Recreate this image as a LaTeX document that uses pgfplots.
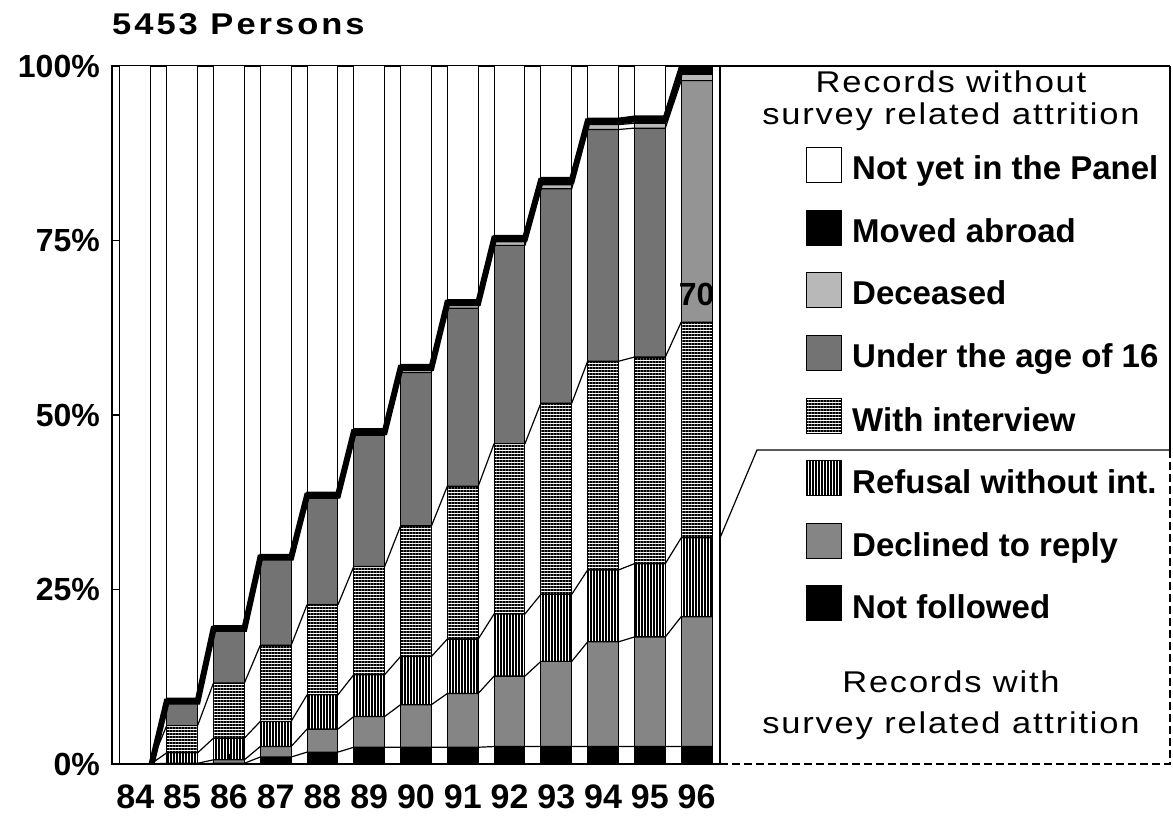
\documentclass[border=0pt]{standalone}
\usepackage{fontspec}
\setmainfont{Liberation Sans}
\newfontfamily\hdrfont[FakeStretch=1.15, LetterSpace=6]{Liberation Sans}
\newfontfamily\titfont[FakeStretch=1.15, LetterSpace=10]{Liberation Sans}
\usepackage{pgfplots}
\pgfplotsset{compat=1.18}
\usepackage{pgfplotstable}
\usetikzlibrary{patterns.meta}
\newcommand{\fs}[1]{\fontsize{#1bp}{#1bp}\selectfont}

\pgfplotstableread{
x  NF  DE   RF   WI   U    UB   DC  MA  NY
84 0   0    0    0    0    0    0   0   100
85 0   0.1  1.5  3.9  3.6  0    0.1 0.2 90.6
86 0.1 0.5  3.1  7.9  7.7  0    0.2 0.3 80.2
87 1.0 1.5  3.6  10.9 12.4 0    0.2 0.4 70.0
88 1.7 3.3  4.9  12.9 15.3 0    0.3 0.5 61.1
89 2.4 4.4  6.0  15.5 18.8 0    0.3 0.6 52.0
90 2.4 6.1  6.9  18.7 22.0 0    0.4 0.7 42.8
91 2.4 7.7  7.8  21.9 25.5 0    0.4 0.8 33.5
92 2.5 10.1 8.9  24.4 28.4 0    0.5 0.9 24.3
93 2.5 12.2 9.6  27.4 30.7 0    0.6 1.0 16.0
94 2.5 15.0 10.3 29.9 33.2 0    0.7 0.9 7.5
95 2.5 15.7 10.5 29.6 32.8 0    0.7 1.0 7.2
96 2.5 18.6 11.3 30.9 0    34.6 0.9 1.2 0.0
}\layers

% cumulative boundaries at the left and right edge of every bar
\pgfplotstableread{
x     c1  c2   c3   c4   c5   c6   c7
83.67 0   0    0    0    0    0    0
84.33 0   0    0    0    0    0    0
84.67 0   0.1  1.6  5.5  9.1  9.2  9.4
85.33 0   0.1  1.6  5.5  9.1  9.2  9.4
85.67 0.1 0.6  3.7  11.6 19.3 19.5 19.8
86.33 0.1 0.6  3.7  11.6 19.3 19.5 19.8
86.67 1.0 2.5  6.1  17.0 29.4 29.6 30.0
87.33 1.0 2.5  6.1  17.0 29.4 29.6 30.0
87.67 1.7 5.0  9.9  22.8 38.1 38.4 38.9
88.33 1.7 5.0  9.9  22.8 38.1 38.4 38.9
88.67 2.4 6.8  12.8 28.3 47.1 47.4 48.0
89.33 2.4 6.8  12.8 28.3 47.1 47.4 48.0
89.67 2.4 8.5  15.4 34.1 56.1 56.5 57.2
90.33 2.4 8.5  15.4 34.1 56.1 56.5 57.2
90.67 2.4 10.1 17.9 39.8 65.3 65.7 66.5
91.33 2.4 10.1 17.9 39.8 65.3 65.7 66.5
91.67 2.5 12.6 21.5 45.9 74.3 74.8 75.7
92.33 2.5 12.6 21.5 45.9 74.3 74.8 75.7
92.67 2.5 14.7 24.3 51.7 82.4 83.0 84.0
93.33 2.5 14.7 24.3 51.7 82.4 83.0 84.0
93.67 2.5 17.5 27.8 57.7 90.9 91.6 92.5
94.33 2.5 17.5 27.8 57.7 90.9 91.6 92.5
94.67 2.5 18.2 28.7 58.3 91.1 91.8 92.8
95.33 2.5 18.2 28.7 58.3 91.1 91.8 92.8
95.67 2.5 21.1 32.4 63.3 97.9 98.8 100
96.33 2.5 21.1 32.4 63.3 97.9 98.8 100
}\edges

\tikzset{
  sNF/.style={fill=black},
  sDE/.style={fill=black!48},
  sRF/.style={pattern={Lines[angle=90,distance=3bp,line width=1.1bp]}},
  sWI/.style={pattern={Lines[angle=0,distance=3bp,line width=1.2bp]}},
  sU/.style={fill=black!55},
  sUB/.style={fill=black!42},
  sDC/.style={fill=black!28},
  sMA/.style={fill=black},
  sNY/.style={fill=white},
}

\begin{document}
\begin{tikzpicture}
\useasboundingbox (0bp,0bp) rectangle (1173bp,818bp);

\begin{axis}[
  at={(112bp,54bp)}, anchor=south west, scale only axis,
  width=608bp, height=698bp,
  xmin=83.5, xmax=96.5, ymin=0, ymax=100,
  ybar stacked, bar width=0.66,
  xtick={84,85,86,87,88,89,90,91,92,93,94,95,96},
  xticklabels={84,85,86,87,88,89,90,91,92,93,94,95,96},
  ytick={0,25,50,75,100},
  yticklabels={0\%,25\%,50\%,75\%,100\%},
  xtick pos=lower, ytick pos=lower,
  tick align=inside, major tick length=10bp,
  tick style={line width=1.2bp, black},
  axis line style={line width=1.5bp},
  xticklabel style={font=\bfseries\fs{34}, inner sep=0pt, yshift=-21bp},
  yticklabel style={font=\bfseries\fs{32}, inner sep=0pt, xshift=-12bp},
  every axis plot/.append style={draw=black, line width=1bp},
]
\addplot[sNF] table[x=x,y=NF]{\layers};
\addplot[sDE] table[x=x,y=DE]{\layers};
\addplot[sRF] table[x=x,y=RF]{\layers};
\addplot[sWI] table[x=x,y=WI]{\layers};
\addplot[sU]  table[x=x,y=U]{\layers};
\addplot[sUB] table[x=x,y=UB]{\layers};
\addplot[sDC] table[x=x,y=DC]{\layers};
\addplot[sMA] table[x=x,y=MA]{\layers};
\addplot[sNY] table[x=x,y=NY]{\layers};
\end{axis}

\begin{axis}[
  at={(112bp,54bp)}, anchor=south west, scale only axis,
  width=608bp, height=698bp,
  xmin=83.5, xmax=96.5, ymin=0, ymax=100,
  axis lines=none, xtick=\empty, ytick=\empty, no markers,
]
\addplot[black, line width=6bp] table[x=x,y expr=\thisrow{c7}-0.45]{\edges};
\addplot[black, line width=1.2bp] table[x=x,y=c1]{\edges};
\addplot[black, line width=1.2bp] table[x=x,y=c2]{\edges};
\addplot[black, line width=1.2bp] table[x=x,y=c3]{\edges};
\addplot[black, line width=1.2bp] table[x=x,y=c4]{\edges};
\addplot[black, line width=1.2bp] table[x=x,y=c5]{\edges};
\addplot[black, line width=1.2bp] table[x=x,y=c6]{\edges};
\addplot[black, line width=1.5bp] table[x=x,y=c7]{\edges};
\node[font=\bfseries\fs{32}] at (axis cs:96,67.2) {70};
\end{axis}

\begin{scope}[x=1bp,y=1bp]
% title
\node[anchor=base west, font=\titfont\bfseries\fs{30}, inner sep=0pt] at (112,783) {5453 Persons};

% legend frame
\draw[line width=1.5bp] (720,752) -- (1170,752);
\draw[line width=1.2bp] (720,752) -- (720,54);
\draw[line width=1.2bp] (1170,752) -- (1170,368);
\draw[line width=1.2bp, dash pattern=on 8bp off 4bp] (1170,368) -- (1170,54) -- (720,54);
\draw[line width=1.2bp] (720,280) -- (757,368) -- (1170,368);

% legend headers
\node[anchor=base, font=\hdrfont\fs{30}, inner sep=0pt] at (951,725) {Records without};
\node[anchor=base, font=\hdrfont\fs{30}, inner sep=0pt] at (951,693) {survey related attrition};
\node[anchor=base, font=\hdrfont\fs{30}, inner sep=0pt] at (951,126) {Records with};
\node[anchor=base, font=\hdrfont\fs{30}, inner sep=0pt] at (951,85) {survey related attrition};

% legend entries
\foreach \st/\cy/\lab in {sNY/653/Not yet in the Panel, sMA/590/Moved abroad, sDC/528/Deceased, sU/465/Under the age of 16, sWI/402/With interview, sRF/340/Refusal without int., sDE/277/Declined to reply, sNF/215/Not followed}{
  \draw[\st, draw=black, line width=1bp] (806,\cy-17.5) rectangle (841,\cy+17.5);
  \node[anchor=base west, font=\bfseries\fs{33}, inner sep=0pt] at (852,\cy-15) {\lab};
}
\end{scope}
\end{tikzpicture}
\end{document}
